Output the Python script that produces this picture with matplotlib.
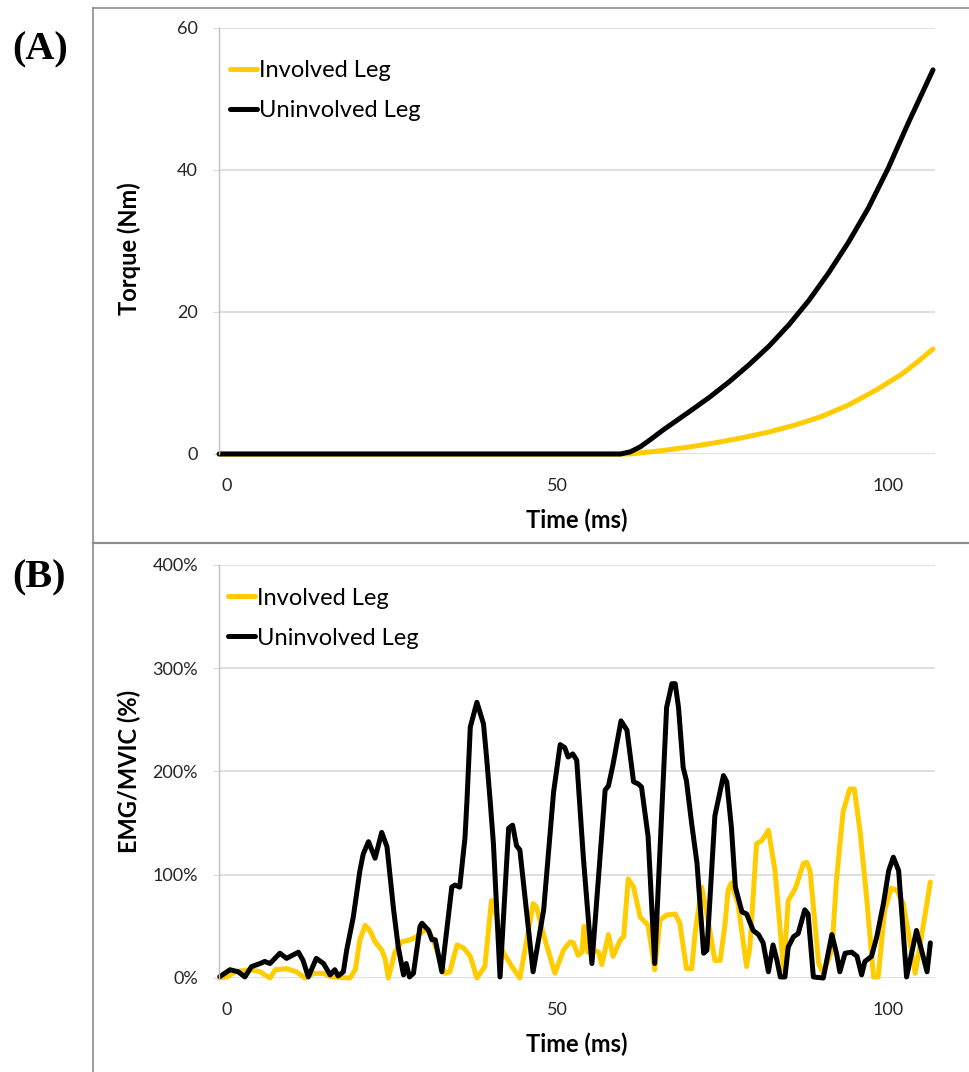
import matplotlib
matplotlib.use("Agg")
import matplotlib.pyplot as plt
from matplotlib.lines import Line2D

plt.rcParams['font.family'] = ['Lato', 'DejaVu Sans']

# ---- data ----
series_names = ['Involved Leg', 'Uninvolved Leg']
series_colors = ['#FFCC00', '#000000']
x_ticks = [0, 50, 100]

# (A) torque, Nm
torque_inv_t = [-1.2, 61, 63, 66, 70, 74, 78, 82, 86, 90, 94, 98, 102, 104.5, 106.8]
torque_inv_v = [0, 0, 0.2, 0.5, 1.0, 1.6, 2.3, 3.1, 4.1, 5.3, 6.9, 8.9, 11.2, 13.0, 14.8]
torque_uninv_t = [-1.2, 59.5, 61, 62.5, 64, 66, 68, 70, 73, 76, 79, 82, 85, 88, 91, 94,
                  97, 100, 103, 106.8]
torque_uninv_v = [0, 0, 0.3, 1.0, 2.0, 3.4, 4.7, 6.0, 8.0, 10.2, 12.6, 15.2, 18.2, 21.6,
                  25.5, 29.8, 34.6, 40.2, 46.5, 54.1]
torque_ticks = [0, 20, 40, 60]

# (B) EMG/MVIC, %
emg_inv_t = [-1.1, 0, 1.2, 3.5, 5.0, 6.5, 7.3, 9.0, 10.5, 11.8, 13.1, 14.6, 15.8, 18.6,
             19.4, 20.1, 20.9, 21.6, 22.4, 23.4, 23.9, 24.4, 25.4, 26.4, 27.7, 28.7,
             30.2, 31.2, 32.2, 33.0, 33.7, 34.8, 35.8, 36.8, 37.8, 39.0, 40.0, 40.8,
             41.6, 43.1, 44.3, 45.6, 46.3, 46.8, 48.1, 49.6, 50.9, 51.9, 52.4, 53.1,
             53.7, 54.0, 54.6, 55.5, 56.2, 56.7, 57.7, 58.4, 59.5, 60.0, 60.7, 61.5,
             62.5, 63.7, 64.7, 65.5, 66.5, 67.8, 68.5, 69.5, 70.3, 70.8, 71.8, 72.6,
             73.8, 74.6, 75.3, 75.8, 76.3, 77.3, 78.6, 79.1, 80.1, 80.9, 81.9, 82.9,
             84.2, 84.9, 86.0, 87.2, 87.7, 88.2, 89.5, 90.2, 91.5, 92.2, 93.2, 94.2,
             94.9, 95.8, 96.8, 97.8, 98.5, 99.5, 100.5, 101.3, 102.3, 103.1, 104.1,
             104.8, 106.4]
emg_inv_v = [0, 1, 6, 8, 6, 0, 8, 9, 6, 0, 4.5, 4.5, 1, 0,
             8, 37, 51, 46, 35, 27, 19, 0, 25, 35, 37, 40,
             48, 37, 17, 4.5, 6, 32, 29, 21, 0, 11, 75, 59,
             27, 11, 0, 46, 72, 69, 37, 4.5, 27, 35, 34, 22,
             25, 50, 25, 27, 25, 13, 42, 21, 37, 40, 96, 88,
             59, 51, 8, 56, 61, 62, 53, 9, 9, 43, 88, 62,
             17, 17, 50, 85, 92, 72, 11, 30, 130, 133, 143, 104,
             8, 75, 87, 111, 112, 104, 14, 4.5, 27, 95, 161, 183,
             183, 140, 75, 1, 1, 66, 87, 85, 72, 43, 4.5,
             30, 93]
emg_uninv_t = [-1.1, 0.45, 1.7, 2.7, 3.7, 5.0, 5.7, 6.5, 8.0, 9.0, 10.8, 11.5, 12.3,
               13.5, 14.6, 15.6, 16.3, 16.8, 17.6, 18.1, 19.1, 20.1, 20.6, 21.4, 22.4,
               23.4, 24.2, 25.2, 25.9, 26.7, 27.1, 27.6, 28.2, 29.2, 29.5, 30.5, 31.0,
               31.5, 32.5, 34.0, 34.5, 35.2, 36.0, 36.3, 36.8, 37.8, 38.8, 39.3, 39.8,
               40.3, 41.3, 42.6, 43.2, 43.8, 44.3, 46.3, 47.9, 49.4, 50.4, 51.1, 51.6,
               52.3, 52.9, 53.9, 55.2, 57.2, 57.7, 58.4, 59.6, 60.5, 61.5, 62.2, 62.7,
               63.7, 64.7, 66.5, 67.3, 67.8, 68.3, 69.0, 69.5, 70.3, 71.1, 72.1, 72.6,
               73.8, 75.1, 75.6, 76.3, 76.9, 77.9, 78.6, 79.6, 80.4, 81.1, 81.9, 82.6,
               83.2, 83.7, 84.4, 84.9, 85.7, 86.4, 87.4, 87.9, 88.7, 90.2, 91.5, 92.2,
               92.7, 93.5, 94.5, 95.3, 96.0, 96.5, 97.5, 98.3, 99.3, 100.1, 100.8, 101.6,
               102.8, 104.3, 105.9, 106.4]
emg_uninv_v = [1.3, 8, 6, 1, 11, 14, 16, 14, 24, 19, 25, 17, 1,
               19, 14, 3, 8, 2, 6, 27, 59, 104, 120, 132, 116,
               141, 127, 66, 30, 3, 14, 1, 4.5, 50, 53, 46, 37,
               37, 6, 88, 90, 88, 136, 172, 243, 267, 246, 211, 172,
               130, 1, 145, 148, 128, 124, 6, 66, 180, 226, 223, 214,
               217, 211, 117, 14, 182, 186, 207, 249, 240, 190, 188, 185,
               137, 14, 262, 285, 285, 262, 204, 191, 149, 111, 24, 27,
               157, 196, 190, 146, 88, 64, 62, 46, 42, 34, 6, 32,
               17, 1, 1, 30, 40, 43, 66, 62, 1, 0, 42, 24,
               6, 24, 25, 21, 3, 16, 21, 40, 72, 104, 117, 104,
               1, 46, 6, 34]
emg_ticks = [0, 100, 200, 300, 400]

# ---- figure ----
fig = plt.figure(figsize=(9.69, 10.72), dpi=100)
axA = fig.add_axes([0.2255, 0.5765, 0.7394, 0.3974])
axB = fig.add_axes([0.2255, 0.0877, 0.7394, 0.3853])

# panel frames
frame = '#8C8C8C'
fig.add_artist(Line2D([93/969, 93/969], [0, 1 - 8/1072], color=frame, lw=1.2, transform=fig.transFigure))
fig.add_artist(Line2D([93/969, 1], [1 - 8/1072, 1 - 8/1072], color=frame, lw=1.2, transform=fig.transFigure))
fig.add_artist(Line2D([93/969, 1], [1 - 543/1072, 1 - 543/1072], color=frame, lw=1.6, transform=fig.transFigure))

fig.text(40/969, 1 - 50/1072, '(A)', family='Liberation Serif', weight='bold', fontsize=29,
         ha='center', va='center')
fig.text(39/969, 1 - 578/1072, '(B)', family='Liberation Serif', weight='bold', fontsize=29,
         ha='center', va='center')

title_size = 17


def style(ax, ticks, fmt):
    for s in ['top', 'right', 'bottom']:
        ax.spines[s].set_visible(False)
    ax.spines['left'].set_color('#BFBFBF')
    ax.spines['left'].set_linewidth(1.0)
    ax.set_yticks(ticks)
    ax.set_yticklabels([fmt(v) for v in ticks])
    ax.set_ylim(ticks[0], ticks[-1])
    ax.set_xticks(x_ticks)
    ax.set_xticklabels([str(v) for v in x_ticks])
    ax.set_xlim(-1.29, 107.1)
    ax.yaxis.grid(True, color='#D9D9D9', lw=1.2)
    ax.set_axisbelow(True)
    ax.tick_params(axis='y', length=4.3, color='#D9D9D9', pad=10.5, labelsize=13, labelcolor='#262626')
    ax.tick_params(axis='x', length=0, pad=17, labelsize=13, labelcolor='#262626')
    ax.set_xlabel('Time (ms)', fontsize=title_size, weight='bold')


style(axA, torque_ticks, lambda v: str(v))
style(axB, emg_ticks, lambda v: '%d%%' % v)

line_kw = dict(lw=3.6, solid_capstyle='round', solid_joinstyle='round', clip_on=False)
axA.plot(torque_inv_t, torque_inv_v, color=series_colors[0], label=series_names[0], **line_kw)
axA.plot(torque_uninv_t, torque_uninv_v, color=series_colors[1], label=series_names[1], **line_kw)
axB.plot(emg_inv_t, emg_inv_v, color=series_colors[0], label=series_names[0], **line_kw)
axB.plot(emg_uninv_t, emg_uninv_v, color=series_colors[1], label=series_names[1], **line_kw)

axA.set_ylabel('Torque (Nm)', fontsize=title_size, weight='bold')
axB.set_ylabel('EMG/MVIC (%)', fontsize=title_size, weight='bold')
axA.yaxis.set_label_coords(-0.108, 0.481)
axB.yaxis.set_label_coords(-0.108, 0.5)
axA.xaxis.set_label_coords(0.5, -0.128)
axB.xaxis.set_label_coords(0.5, -0.133)

for ax, anchor in [(axA, (0.016, 0.924)), (axB, (0.013, 0.945))]:
    ax.legend(loc='upper left', bbox_to_anchor=anchor, frameon=False, fontsize=title_size,
              handlelength=1.15, handletextpad=0.08, labelspacing=0.8, borderpad=0,
              borderaxespad=0)

fig.savefig('out.png', dpi=100)
